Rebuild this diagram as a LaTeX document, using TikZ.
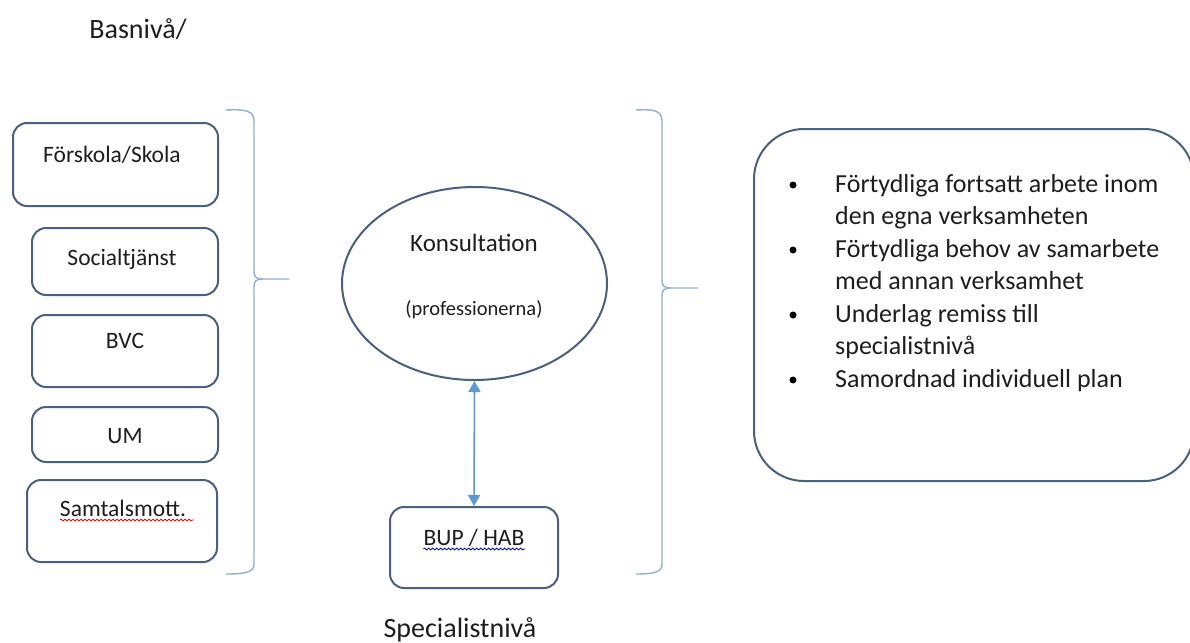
\documentclass[tikz,border=0pt]{standalone}
\usepackage{fontspec}
\setmainfont{Carlito}
\usetikzlibrary{arrows.meta,shapes.geometric,decorations.pathmorphing}
\definecolor{boxline}{HTML}{4A6080}
\definecolor{bracecol}{HTML}{8FB2D6}
\definecolor{arrowcol}{HTML}{5B9BD5}
\definecolor{txt}{HTML}{1E1E1E}
\begin{document}
\begin{tikzpicture}[x=1pt,y=-1pt,
  box/.style={draw=boxline, line width=2pt, rounded corners=14pt, fill=white, inner sep=0pt},
  lbl/.style={font=\fontsize{23.5}{28}\selectfont, text=txt, anchor=base, inner sep=0pt},
  listtxt/.style={font=\fontsize{26}{31}\selectfont, text=txt, anchor=base west, inner sep=0pt},
  dotmark/.style={circle, fill=black, inner sep=0pt, minimum size=7pt},
  bracket/.style={draw=bracecol, line width=1.4pt},
  spell/.style={decorate, decoration={snake, amplitude=0.9pt, segment length=4pt}, line width=0.8pt}]
\useasboundingbox (0,0) rectangle (1190,642);
\fill[white] (0,0) rectangle (1190,642);

% titles
\node[lbl, font=\fontsize{28}{32}\selectfont] (bas) at (138,38) {Basnivå/};
\node[lbl, font=\fontsize{28}{32}\selectfont] (spec) at (460,637) {Specialistnivå};

% left boxes
\node[box, minimum width=205pt, minimum height=83pt] (b1) at (115.5,164.5) {};
\node[box, minimum width=186pt, minimum height=67pt] (b2) at (125,261.5) {};
\node[box, minimum width=186pt, minimum height=72pt] (b3) at (125,351) {};
\node[box, minimum width=186pt, minimum height=55pt] (b4) at (125,434.5) {};
\node[box, minimum width=190pt, minimum height=82pt] (b5) at (122,521) {};
\node[lbl] (t1) at (112,162) {Förskola/Skola};
\node[lbl] (t2) at (122,265) {Socialtjänst};
\node[lbl] (t3) at (125,348) {BVC};
\node[lbl] (t4) at (125,443) {UM};
\node[lbl] (t5) at (123,516) {Samtalsmott.};
\draw[red, spell] (t5.base west) ++(0,4) -- ++(134,0);

% left bracket
\draw[bracket] (226,110) .. controls (246,109) and (254,111) .. (254,121)
  -- (254,271) .. controls (254,277) and (256,279) .. (263,279) -- (289,279);
\draw[bracket] (263,279) .. controls (256,279) and (254,281) .. (254,287)
  -- (254,564) .. controls (254,572) and (246,574) .. (226,574);

% consultation
\node[ellipse, draw=boxline, line width=2pt, fill=white, minimum width=265pt, minimum height=193pt, inner sep=0pt] (kons) at (474.5,283.5) {};
\node[lbl, font=\fontsize{25}{30}\selectfont] (kt) at (474,251) {Konsultation};
\node[lbl, font=\fontsize{20.5}{24}\selectfont] (kp) at (474,315) {(professionerna)};

% specialist box
\node[box, minimum width=168pt, minimum height=81pt] (bup) at (474,547.5) {};
\node[lbl] (bt) at (474,545) {BUP / HAB};
\draw[blue!70!black, spell] (bt.base west) ++(0,4) -- ++(102,0);

\draw[arrowcol, line width=1.6pt, {Triangle[length=11pt,width=12pt]}-{Triangle[length=11pt,width=12pt]}]
  (kons.south) -- (bup.north);

% right bracket
\draw[bracket] (636,110) .. controls (655,109) and (662,111) .. (662,121)
  -- (662,280) .. controls (662,286) and (664,288) .. (671,288) -- (698,288);
\draw[bracket] (671,288) .. controls (664,288) and (662,290) .. (662,296)
  -- (662,564) .. controls (662,572) and (655,574) .. (636,574);

% right box (its right side runs past the picture's edge)
\node[box, rounded corners=50pt, minimum width=440pt, minimum height=352pt] (rbox) at (974,305) {};
\node[dotmark] (d1) at (793,185) {};
\node[dotmark] (d2) at (793,250) {};
\node[dotmark] (d3) at (793,315) {};
\node[dotmark] (d4) at (793,380) {};
\node[listtxt] (l1) at (835,192) {Förtydliga fortsatt arbete inom};
\node[listtxt] (l2) at (835,224.5) {den egna verksamheten};
\node[listtxt] (l3) at (835,257) {Förtydliga behov av samarbete};
\node[listtxt] (l4) at (835,289.5) {med annan verksamhet};
\node[listtxt] (l5) at (835,322) {Underlag remiss till};
\node[listtxt] (l6) at (835,354.5) {specialistnivå};
\node[listtxt] (l7) at (835,387) {Samordnad individuell plan};
\end{tikzpicture}
\end{document}
